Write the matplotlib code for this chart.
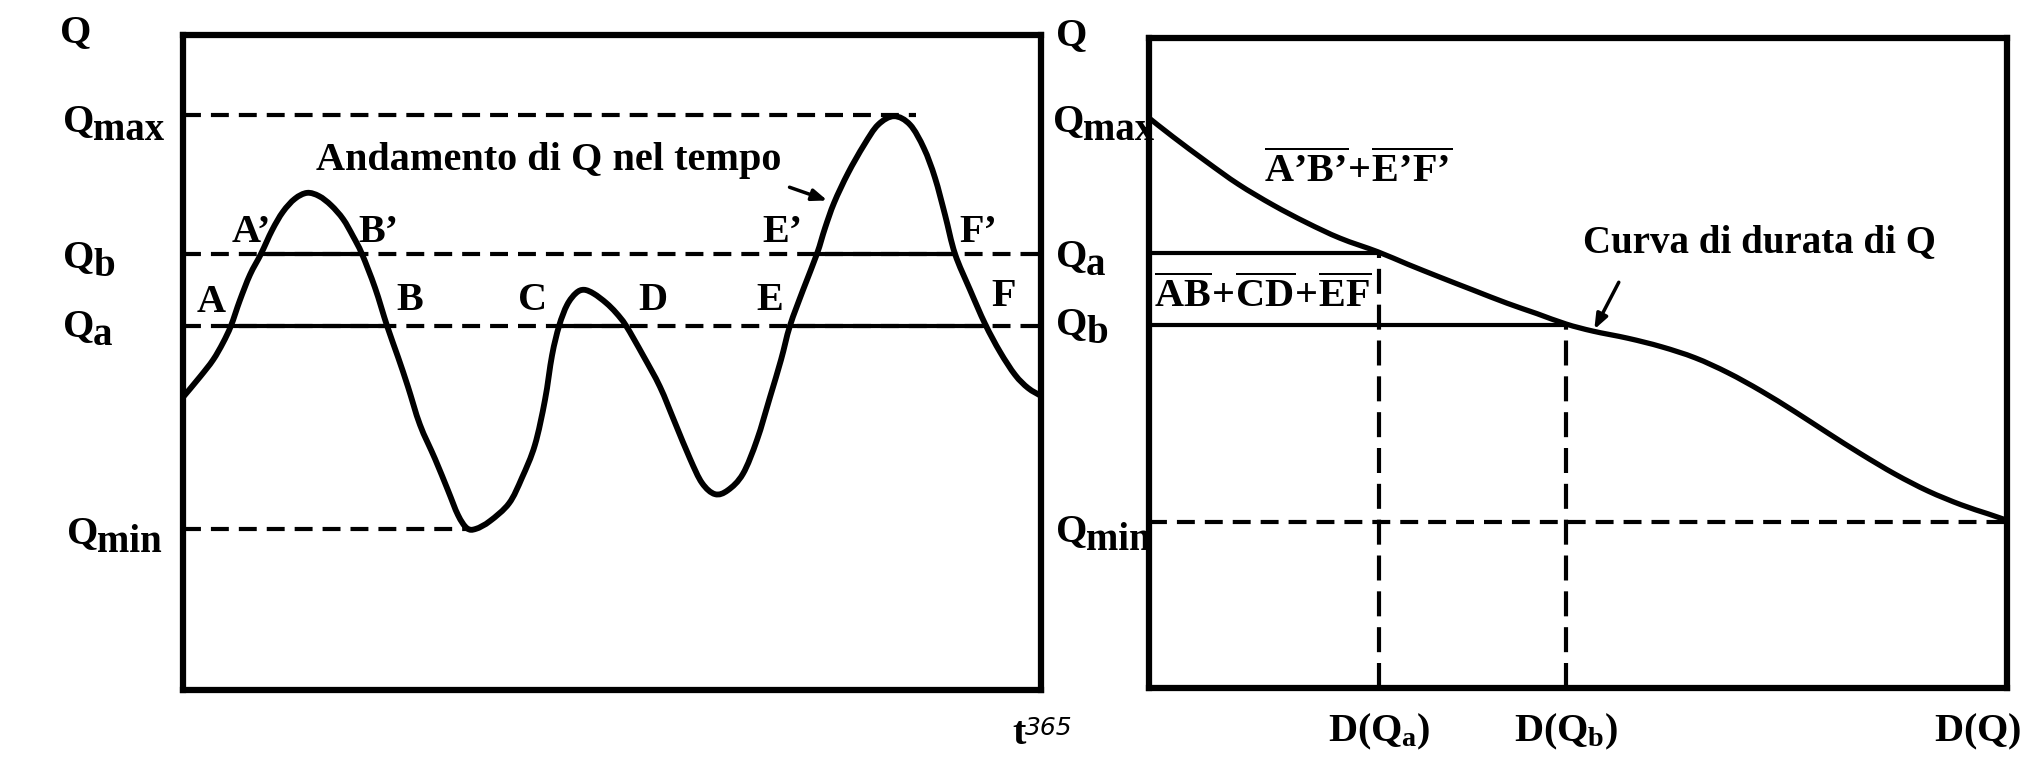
import matplotlib
matplotlib.use('Agg')
import matplotlib.pyplot as plt
import numpy as np
from matplotlib.path import Path
from matplotlib.patches import PathPatch

# ---- data (t in days, Q in arbitrary units 0..10) ----
t_days = [0, 7.2, 12.8, 17.0, 20.4, 24.2, 28.5, 33.2, 37.9, 42.5, 47.6, 52.8, 57.9, 63.0,
          68.1, 72.3, 76.1, 81.7, 86.8, 91.5, 95.7, 100.8, 107.2, 112.7, 117.0, 120.8,
          124.6, 130.6, 138.7, 144.2, 149.7, 154.0, 157.0, 160.0, 163.4, 167.2, 170.6,
          174.8, 180.0, 184.2, 188.5, 195.7, 202.9, 209.3, 215.7, 220.8, 226.3, 231.8,
          238.2, 244.2, 249.7, 254.4, 258.2, 263.8, 269.7, 273.1, 277.0, 282.9, 289.7,
          295.7, 302.5, 309.3, 315.2, 319.9, 324.2, 328.4, 334.8, 341.2, 347.6,
          354.0, 359.5, 365]
q_time = [4.47, 4.78, 5.04, 5.30, 5.56, 5.95, 6.34, 6.66, 7.02, 7.30, 7.50, 7.59, 7.54, 7.40,
          7.19, 6.93, 6.66, 6.14, 5.56, 5.08, 4.63, 4.05, 3.53, 3.05, 2.67, 2.47,
          2.46, 2.58, 2.85, 3.24, 3.74, 4.43, 5.11, 5.56, 5.88, 6.06, 6.11,
          6.05, 5.91, 5.76, 5.56, 5.11, 4.63, 4.08, 3.53, 3.16, 2.99, 3.05,
          3.30, 3.82, 4.47, 5.04, 5.56, 6.11, 6.66, 7.05, 7.44, 7.89, 8.32,
          8.63, 8.76, 8.63, 8.27, 7.82, 7.25, 6.66, 6.11, 5.59, 5.16,
          4.81, 4.61, 4.49]

# levels on the left panel
q_max, q_b, q_a, q_min = 8.78, 6.66, 5.56, 2.46
t_qmax_end, t_qmin_end = 312, 122

# crossing points with Qa (A..F) and Qb (A'..F')
cross_lo = {'A': 20.4, 'B': 86.8, 'C': 160.0, 'D': 188.5, 'E': 258.2, 'F': 341.5}
cross_hi = {'A’': 33.2, 'B’': 76.1, 'E’': 269.7, 'F’': 328.4}
label_pos = {'A’': (28.9, 6.99), 'B’': (83.0, 6.99), 'E’': (255.2, 6.99), 'F’': (338.2, 6.99),
             'A': (11.9, 5.92), 'B': (96.6, 5.95), 'C': (148.5, 5.95), 'D': (199.9, 5.95),
             'E': (249.7, 5.95), 'F': (349.3, 6.00)}

# duration curve (right panel)
d_days = [0, 10.2, 24.7, 38, 52.8, 67, 81.3, 97.4, 110, 123.8, 138, 152.3, 165, 177.4,
          188.9, 203.8, 218, 232.3, 246.3, 260.4, 274.8, 288.9, 302.9, 317.4, 331.4,
          345.4, 356.9, 365]
q_dur = [8.77, 8.48, 8.09, 7.75, 7.43, 7.16, 6.92, 6.71, 6.52, 6.32, 6.12, 5.92, 5.76, 5.60,
         5.49, 5.38, 5.25, 5.08, 4.85, 4.57, 4.25, 3.92, 3.60, 3.29, 3.03,
         2.82, 2.68, 2.58]
r_qmax, r_qa, r_qb, r_qmin = 8.77, 6.69, 5.58, 2.55
d_qa, d_qb = 97.8, 177.4

FS = 29
plt.rcParams['font.family'] = 'Liberation Serif'
plt.rcParams['font.weight'] = 'bold'
plt.rcParams['mathtext.fontset'] = 'custom'
plt.rcParams['mathtext.rm'] = 'Liberation Serif:bold'
plt.rcParams['mathtext.it'] = 'Liberation Serif:bold'
plt.rcParams['mathtext.bf'] = 'Liberation Serif:bold'

W, H = 2028, 758
fig = plt.figure(figsize=(W / 100, H / 100), dpi=100)
axL = fig.add_axes([183 / W, 1 - 690 / H, 858 / W, 655 / H])
axR = fig.add_axes([1149 / W, 1 - 688 / H, 858 / W, 650 / H])

DASH = (0, (4.3, 2.4))
for ax in (axL, axR):
    ax.set_xlim(0, 365)
    ax.set_ylim(0, 10)
    ax.set_xticks([])
    ax.set_yticks([])
    for s in ax.spines.values():
        s.set_linewidth(4.5)


def smooth_curve(ax, x, y, lw):
    # draw a smooth line through the read points (Catmull-Rom -> cubic Bezier)
    p = np.column_stack([x, y])
    n = len(p)
    verts = [p[0]]
    codes = [Path.MOVETO]
    for i in range(n - 1):
        p0 = p[i - 1] if i > 0 else p[i]
        p3 = p[i + 2] if i + 2 < n else p[i + 1]
        verts += [p[i] + (p[i + 1] - p0) / 6, p[i + 1] - (p3 - p[i]) / 6, p[i + 1]]
        codes += [Path.CURVE4] * 3
    ax.add_patch(PathPatch(Path(verts, codes), fill=False, lw=lw, edgecolor='black',
                           capstyle='round', joinstyle='round', clip_on=False, zorder=5))


def qlabel(ax, level, sub, dx, dy=-4):
    tr = ax.get_yaxis_transform()
    ax.annotate('Q', xy=(0, level), xycoords=tr, xytext=(dx, dy), textcoords='offset pixels',
                ha='left', va='center', fontsize=FS)
    if sub:
        ax.annotate(sub, xy=(0, level), xycoords=tr, xytext=(dx + 30, dy - 9),
                    textcoords='offset pixels', ha='left', va='center', fontsize=FS - 1)


# ---- left panel: Q over time ----
smooth_curve(axL, t_days, q_time, 4.2)
axL.plot([0, t_qmax_end], [q_max, q_max], color='black', lw=3, ls=DASH)
axL.plot([0, t_qmin_end], [q_min, q_min], color='black', lw=3, ls=DASH)
axL.plot([0, 365], [q_b, q_b], color='black', lw=3, ls=DASH)
axL.plot([0, 365], [q_a, q_a], color='black', lw=3, ls=DASH)
lo = list(cross_lo.values())
hi = list(cross_hi.values())
for i in range(0, len(lo), 2):
    axL.plot([lo[i], lo[i + 1]], [q_a, q_a], color='black', lw=3)
for i in range(0, len(hi), 2):
    axL.plot([hi[i], hi[i + 1]], [q_b, q_b], color='black', lw=3)
for name, (x, y) in label_pos.items():
    axL.text(x, y, name, ha='center', va='center', fontsize=FS)

axL.text(155.5, 8.09, 'Andamento di Q nel tempo', ha='center', va='center', fontsize=FS)
axL.annotate('', xy=(275.2, 7.46), xytext=(256.9, 7.69),
             arrowprops=dict(arrowstyle='-|>,head_length=0.9,head_width=0.35', color='black', lw=2.5))

qlabel(axL, 10, '', -123, 2)
qlabel(axL, q_max, 'max', -120, -7)
qlabel(axL, q_b, 'b', -120, -4)
qlabel(axL, q_a, 'a', -120, -1)
qlabel(axL, q_min, 'min', -116, -5)

trx = axL.get_xaxis_transform()
axL.annotate('t', xy=(365, 0), xycoords=trx, xytext=(-22, -45), textcoords='offset pixels',
             ha='center', va='center', fontsize=FS)
axL.annotate('365', xy=(365, 0), xycoords=trx, xytext=(8, -38), textcoords='offset pixels',
             ha='center', va='center', fontsize=18, fontweight='normal', fontstyle='italic',
             family='DejaVu Sans')

# ---- right panel: duration curve ----
smooth_curve(axR, d_days, q_dur, 3.8)
axR.plot([0, 365], [r_qmin, r_qmin], color='black', lw=3, ls=DASH)
axR.plot([0, d_qa], [r_qa, r_qa], color='black', lw=3)
axR.plot([0, d_qb], [r_qb, r_qb], color='black', lw=3)
axR.plot([d_qa, d_qa], [0, r_qa], color='black', lw=3, ls=(0, (6, 2.6)))
axR.plot([d_qb, d_qb], [0, r_qb], color='black', lw=3, ls=(0, (6, 2.6)))

axR.text(88.9, 7.77, r'$\overline{A’B’}\!+\!\overline{E’F’}$', ha='center', va='baseline', fontsize=FS)
axR.text(48.5, 5.85, r'$\overline{AB}\!+\!\overline{CD}\!+\!\overline{EF}$', ha='center',
         va='baseline', fontsize=FS)
axR.text(259.9, 6.86, 'Curva di durata di Q', ha='center', va='center', fontsize=FS - 1)
axR.annotate('', xy=(188.9, 5.48), xytext=(200.4, 6.28),
             arrowprops=dict(arrowstyle='-|>,head_length=0.9,head_width=0.35', color='black', lw=2.5))

qlabel(axR, 10, '', -93, 2)
qlabel(axR, r_qmax, 'max', -96, -4)
qlabel(axR, r_qa, 'a', -93, -3)
qlabel(axR, r_qb, 'b', -93, 1)
qlabel(axR, r_qmin, 'min', -93, -9)

trx = axR.get_xaxis_transform()
for x, lab, dx in [(d_qa, r'$D(Q_a)$', 0), (d_qb, r'$D(Q_b)$', 0), (365, r'$D(Q)$', -29)]:
    axR.annotate(lab, xy=(x, 0), xycoords=trx, xytext=(dx, -44), textcoords='offset pixels',
                 ha='center', va='center', fontsize=FS)

fig.savefig('out.png', dpi=100)
